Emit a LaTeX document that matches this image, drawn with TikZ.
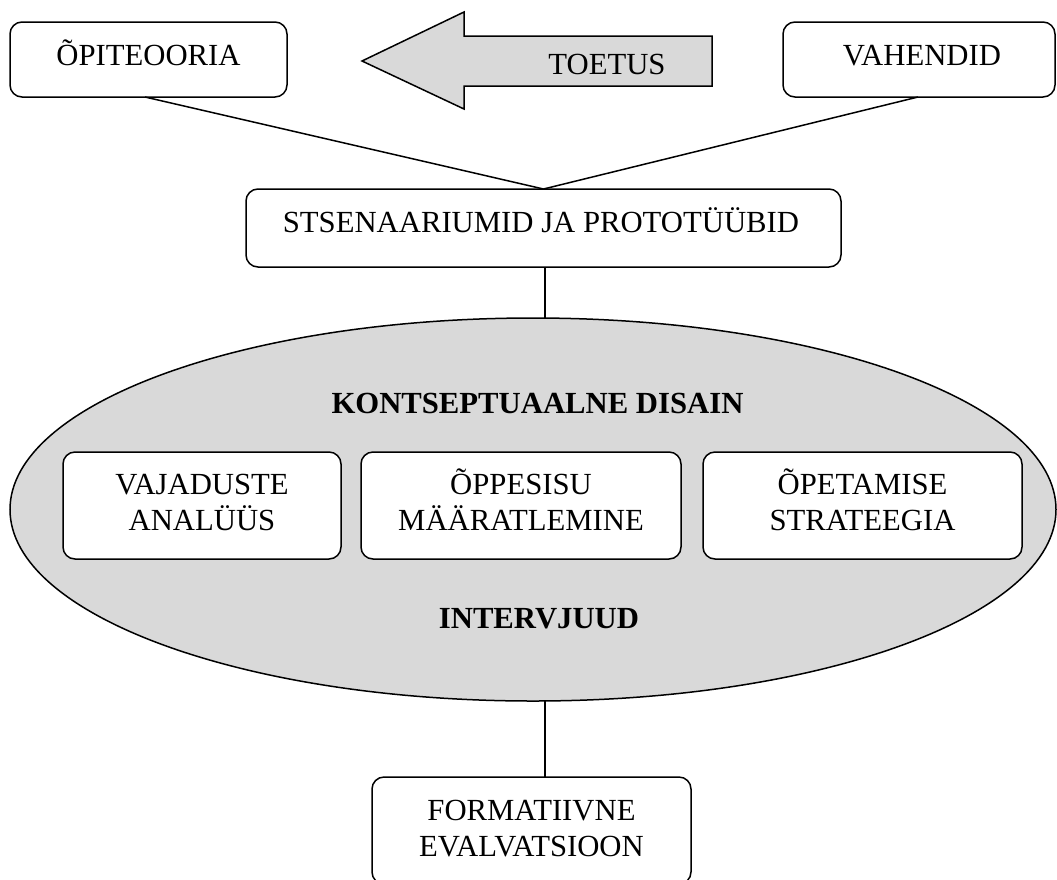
\documentclass[tikz,border=0pt]{standalone}
\usepackage{fontspec}
\setmainfont{Liberation Serif}
\usetikzlibrary{shapes.geometric}
\definecolor{panelgray}{RGB}{217,217,217}
\begin{document}
\begin{tikzpicture}[x=1pt,y=-1pt,
  every node/.style={inner sep=0pt, outer sep=0pt},
  roundbox/.style={draw, line width=1.5pt, rounded corners=12pt, fill=white},
  boxtext/.style={font=\fontsize{30.7}{35.5}\selectfont, align=center, anchor=base},
  heading/.style={font=\fontsize{30.7}{35.5}\selectfont\bfseries, align=center, anchor=base},
  link/.style={line width=1.5pt}]
\useasboundingbox (0,0) rectangle (1057,879);
\clip (0,0) rectangle (1057,879);

% top row
\node[roundbox, minimum width=277pt, minimum height=75pt] (op) at (148.5,59.5) {};
\node[boxtext] (optext) at (148.5,65) {ÕPITEOORIA};
\node[roundbox, minimum width=272pt, minimum height=75pt] (vh) at (919,59.5) {};
\node[boxtext] (vhtext) at (922,65) {VAHENDID};

% support arrow pointing left
\draw[link, fill=panelgray] (362,61) -- (464,12) -- (464,36) -- (712,36)
  -- (712,86) -- (464,86) -- (464,109) -- cycle;
\node[boxtext] (toetus) at (607,74) {TOETUS};

% scenarios and prototypes
\node[roundbox, minimum width=595pt, minimum height=78pt] (sc) at (543.5,228) {};
\node[boxtext] (sctext) at (541,232) {STSENAARIUMID JA PROTOTÜÜBID};
\draw[link] ([xshift=135pt]op.south west) -- (sc.north);
\draw[link] ([xshift=135pt]vh.south west) -- (sc.north);

% conceptual design
\node[draw, ellipse, line width=1.5pt, fill=panelgray,
  minimum width=1046pt, minimum height=383pt] (el) at (533,509.5) {};
\draw[link] ([xshift=1.5pt]sc.south) -- ([xshift=1.5pt]sc.south |- el.north);
\node[heading] (kd) at (537.5,413) {KONTSEPTUAALNE DISAIN};

% multi-line labels sit on the baseline of their last line
\node[roundbox, minimum width=278pt, minimum height=107pt] (b1) at (202,505.5) {};
\node[boxtext] (b1text) at (202,530) {VAJADUSTE\\ANALÜÜS};
\node[roundbox, minimum width=320pt, minimum height=107pt] (b2) at (521,505.5) {};
\node[boxtext] (b2text) at (521,530) {ÕPPESISU\\MÄÄRATLEMINE};
\node[roundbox, minimum width=319pt, minimum height=107pt] (b3) at (862.5,505.5) {};
\node[boxtext] (b3text) at (862.5,530) {ÕPETAMISE\\STRATEEGIA};

\node[heading] (iv) at (539,628) {INTERVJUUD};

% formative evaluation
\node[roundbox, minimum width=319pt, minimum height=107pt] (fe) at (531.5,830.5) {};
\node[boxtext] (fetext) at (531.5,856) {FORMATIIVNE\\EVALVATSIOON};
\draw[link] ([xshift=1.5pt]sc.south |- el.south) -- ([xshift=1.5pt]sc.south |- fe.north);
\end{tikzpicture}
\end{document}
